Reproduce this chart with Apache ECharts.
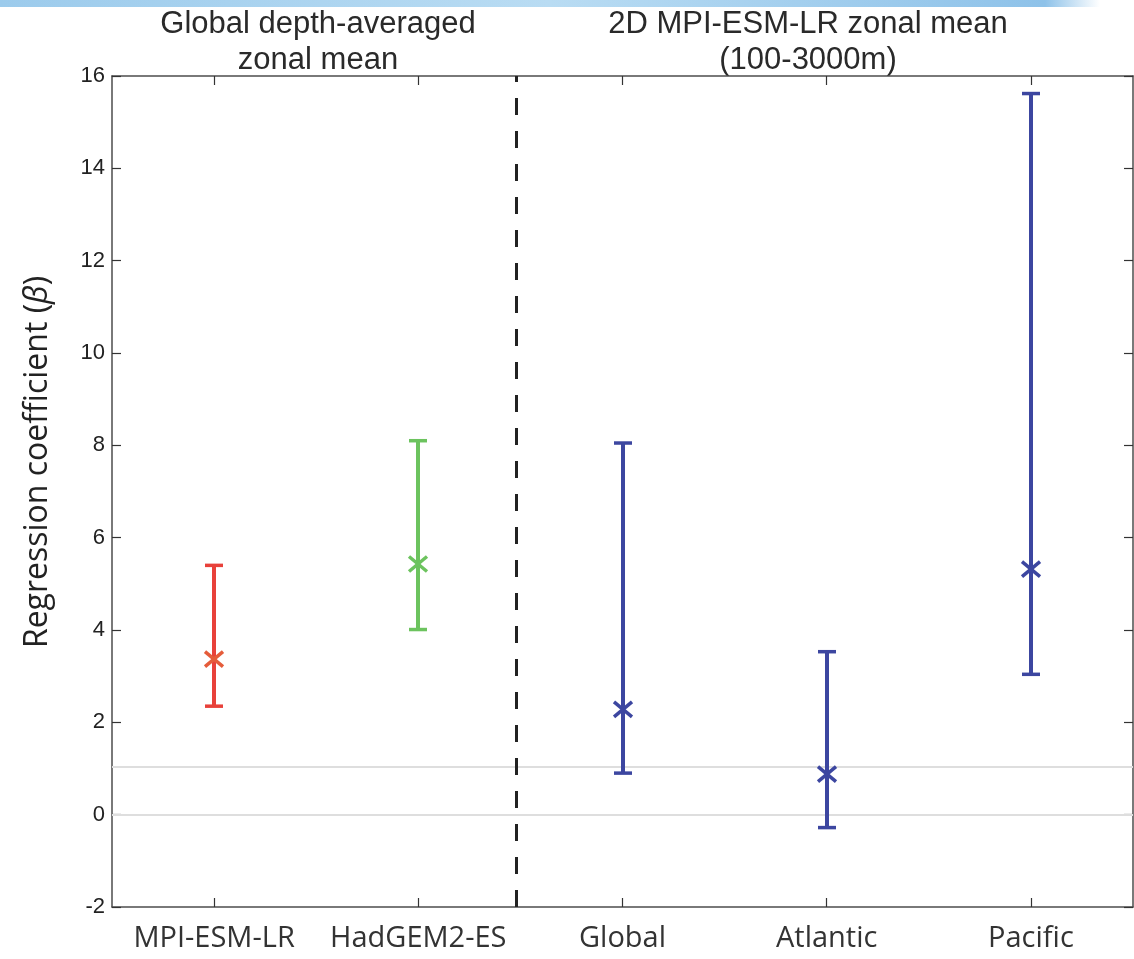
<!DOCTYPE html>
<html>
<head>
<meta charset="utf-8">
<script src="https://cdn.jsdelivr.net/npm/echarts@6/dist/echarts.min.js"></script>
<style>
  html, body { margin: 0; padding: 0; background: #fff; }
  #chart { width: 1134px; height: 959px; }
</style>
</head>
<body>
<div id="chart"></div>
<script>
// data
var categories = ['MPI-ESM-LR', 'HadGEM2-ES', 'Global', 'Atlantic', 'Pacific'];
var centers = [3.37, 5.43, 2.28, 0.88, 5.32];
var lower = [2.35, 4.01, 0.90, -0.28, 3.04];
var upper = [5.40, 8.10, 8.05, 3.53, 15.62];
var yTicks = [-2, 0, 2, 4, 6, 8, 10, 12, 14, 16];
var refLines = [0, 1.03];
var dividerX = 2.48; // between HadGEM2-ES and Global (category units, 1-based)

var barColors = ['#e8413a', '#6cc35e', '#3c46a0', '#3c46a0', '#3c46a0'];
var crossColors = ['#e55c3a', '#6cc35e', '#3c46a0', '#3c46a0', '#3c46a0'];

var chart = echarts.init(document.getElementById('chart'));

function renderItem(params, api) {
  var i = api.value(0);
  var c = api.coord([i, api.value(1)]);
  var lo = api.coord([i, api.value(2)]);
  var hi = api.coord([i, api.value(3)]);
  var x = Math.round(c[0]);
  var col = barColors[params.dataIndex];
  var xcol = crossColors[params.dataIndex];
  var cap = 9, cw = 9, ch = 7.5;
  return {
    type: 'group',
    children: [
      { type: 'line', shape: { x1: x, y1: hi[1], x2: x, y2: lo[1] }, style: { stroke: col, lineWidth: 4 } },
      { type: 'line', shape: { x1: x - cap, y1: hi[1], x2: x + cap, y2: hi[1] }, style: { stroke: col, lineWidth: 3.5 } },
      { type: 'line', shape: { x1: x - cap, y1: lo[1], x2: x + cap, y2: lo[1] }, style: { stroke: col, lineWidth: 3.5 } },
      { type: 'line', shape: { x1: x - cw, y1: c[1] - ch, x2: x + cw, y2: c[1] + ch }, style: { stroke: xcol, lineWidth: 3.5 } },
      { type: 'line', shape: { x1: x - cw, y1: c[1] + ch, x2: x + cw, y2: c[1] - ch }, style: { stroke: xcol, lineWidth: 3.5 } }
    ]
  };
}

var axisLine = { show: true, onZero: false, lineStyle: { color: '#4d4d4d', width: 1.5 } };
var tickStyle = { show: true, inside: true, length: 9, lineStyle: { color: '#333', width: 1.2 } };

var option = {
  animation: false,
  backgroundColor: '#fff',
  grid: { left: 112, right: 1, top: 76, bottom: 52 },
  xAxis: [
    {
      type: 'category',
      data: categories,
      position: 'bottom',
      axisLine: axisLine,
      axisTick: Object.assign({ alignWithLabel: true, interval: 0 }, tickStyle),
      axisLabel: { color: '#333', fontFamily: 'Open Sans', fontSize: 29, margin: 17, interval: 0, hideOverlap: false },
      splitLine: { show: false }
    },
    {
      type: 'category',
      data: categories,
      position: 'top',
      axisLine: axisLine,
      axisTick: Object.assign({ alignWithLabel: true, interval: 0 }, tickStyle),
      axisLabel: { show: false },
      splitLine: { show: false }
    },
    {
      type: 'value',
      min: 0.5,
      max: 5.5,
      show: false
    }
  ],
  yAxis: [
    {
      type: 'value',
      min: yTicks[0],
      max: yTicks[yTicks.length - 1],
      interval: 2,
      position: 'left',
      axisLine: axisLine,
      axisTick: tickStyle,
      axisLabel: { color: '#222', fontFamily: 'Liberation Sans', fontSize: 22, margin: 7 },
      splitLine: { show: false }
    },
    {
      type: 'value',
      min: yTicks[0],
      max: yTicks[yTicks.length - 1],
      interval: 2,
      position: 'right',
      axisLine: axisLine,
      axisTick: tickStyle,
      axisLabel: { show: false },
      splitLine: { show: false }
    }
  ],
  series: [
    {
      type: 'custom',
      xAxisIndex: 0,
      yAxisIndex: 0,
      renderItem: renderItem,
      z: 5,
      data: categories.map(function (c, i) { return [i, centers[i], lower[i], upper[i]]; }),
      markLine: {
        silent: true,
        symbol: 'none',
        label: { show: false },
        z: 1,
        lineStyle: { color: '#dedede', width: 2, type: 'solid' },
        data: refLines.map(function (v) { return { yAxis: v }; })
      }
    },
    {
      type: 'line',
      xAxisIndex: 2,
      yAxisIndex: 0,
      data: [],
      z: 4,
      markLine: {
        silent: true,
        symbol: 'none',
        label: { show: false },
        lineStyle: { color: '#222', width: 3, type: [17, 16] },
        data: [{ xAxis: dividerX }]
      }
    }
  ],
  graphic: [
    {
      type: 'rect',
      left: 0, top: 0,
      shape: { width: 1100, height: 7 },
      style: {
        fill: new echarts.graphic.LinearGradient(0, 0, 1, 0, [
          { offset: 0, color: '#9ccbec' },
          { offset: 0.5, color: '#b9dcf3' },
          { offset: 0.95, color: '#8ec2e9' },
          { offset: 1, color: '#ffffff' }
        ])
      },
      silent: true
    },
    {
      type: 'text',
      x: 318, y: 6,
      style: {
        text: 'Global depth-averaged\nzonal mean',
        fill: '#2a2a2a',
        font: '31px "Liberation Sans"',
        textAlign: 'center',
        textVerticalAlign: 'top',
        lineHeight: 36
      }
    },
    {
      type: 'text',
      x: 808, y: 6,
      style: {
        text: '2D MPI-ESM-LR zonal mean\n(100-3000m)',
        fill: '#2a2a2a',
        font: '31px "Liberation Sans"',
        textAlign: 'center',
        textVerticalAlign: 'top',
        lineHeight: 36
      }
    },
    {
      type: 'text',
      x: 38, y: 462,
      rotation: Math.PI / 2,
      style: {
        text: 'Regression coefficient ({b|β})',
        rich: { b: { fontStyle: 'italic', fontFamily: 'Open Sans', fontSize: 32, fill: '#222' } },
        fill: '#222',
        font: '32px "Open Sans"',
        textAlign: 'center',
        textVerticalAlign: 'middle'
      }
    }
  ]
};

chart.setOption(option);
</script>
</body>
</html>
